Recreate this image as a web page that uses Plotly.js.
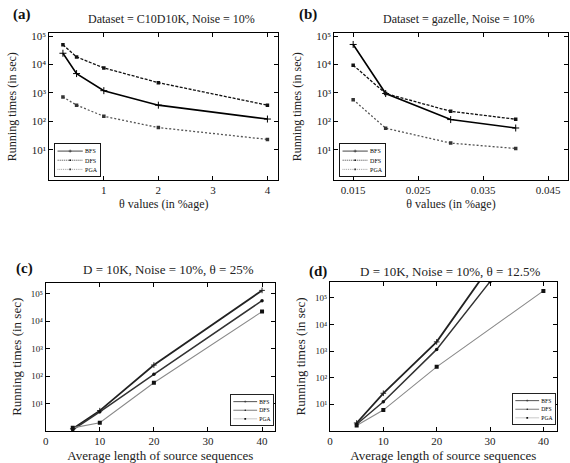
<!DOCTYPE html>
<html>
<head>
<meta charset="utf-8">
<script src="https://cdn.plot.ly/plotly-3.0.1.min.js"></script>
<style>html,body{margin:0;padding:0;background:#fff;}#chart{width:570px;height:463px;}</style>
</head>
<body>
<div id="chart"></div>
<script>
// ---- data ----
const seriesNames = ["BFS", "DFS", "PGA"];

// (a) Dataset = C10D10K, Noise = 10%
const thetaA = [0.25, 0.5, 1, 2, 4];
const bfsA = [25000, 4800, 1200, 370, 120];
const dfsA = [50000, 18500, 7600, 2300, 370];
const pgaA = [720, 370, 150, 60, 23];

// (b) Dataset = gazelle, Noise = 10%
const thetaB = [0.015, 0.02, 0.03, 0.04];
const bfsB = [51000, 950, 115, 58];
const dfsB = [9500, 950, 225, 118];
const pgaB = [580, 57, 17, 11];

// (c) D = 10K, Noise = 10%, theta = 25%
const lenC = [5, 10, 20, 40];
const bfsC = [1.2, 5.5, 250, 130000];
const dfsC = [1.1, 5.0, 115, 55000];
const pgaC = [1.3, 2.0, 57, 22000];

// (d) D = 10K, Noise = 10%, theta = 12.5%
const lenD = [5, 10, 20, 30];
const bfsD = [2.0, 26, 2200, 1500000];
const dfsD = [1.8, 12.5, 1150, 400000];
const lenDpga = [5, 10, 20, 40];
const pgaD = [1.6, 6.1, 255, 180000];

// tick labels
const thetaTicksA = [1, 2, 3, 4];
const thetaTicksB = [0.015, 0.025, 0.035, 0.045];
const thetaTickTextB = ["0.015", "0.025", "0.035", "0.045"];
const lenTicks = [0, 10, 20, 30, 40];
const logTickVals = [10, 100, 1000, 10000, 100000];
const logTickText = ["10\u00b9", "10\u00b2", "10\u00b3", "10\u2074", "10\u2075"];

const panelLabels = ["(a)", "(b)", "(c)", "(d)"];
const panelTitles = [
  "Dataset = C10D10K, Noise = 10%",
  "Dataset = gazelle, Noise = 10%",
  "D = 10K, Noise = 10%, \u03b8 = 25%",
  "D = 10K, Noise = 10%, \u03b8 = 12.5%"
];
const yTitle = "Running times (in sec)";
const xTitleTheta = "\u03b8 values (in %age)";
const xTitleLen = "Average length of source sequences";

// ---- styles ----
const FONT = "Liberation Serif, Times New Roman, serif";
const topStyles = [
  {line: {color: "#000", width: 1.6, dash: "solid"}, marker: {symbol: "cross-thin-open", size: 5, line: {color: "#000", width: 1}, color: "#000"}},
  {line: {color: "#111", width: 1.3, dash: "3px,1.5px"}, marker: {symbol: "square", size: 3.5, color: "#111"}},
  {line: {color: "#555", width: 1.3, dash: "2px,2px"}, marker: {symbol: "square", size: 3.5, color: "#333"}}
];
const botStyles = [
  {line: {color: "#222", width: 1.8}, marker: {symbol: "cross-thin-open", size: 4, line: {color: "#222", width: 1}, color: "#222"}},
  {line: {color: "#333", width: 1.5}, marker: {symbol: "circle", size: 3.5, color: "#111"}},
  {line: {color: "#8a8a8a", width: 1.1}, marker: {symbol: "square", size: 4, color: "#111"}}
];

function mk(x, y, i, styles, xa, ya, lg) {
  return {
    x: x, y: y, type: "scatter", mode: "lines+markers",
    name: seriesNames[i], xaxis: xa, yaxis: ya, legend: lg,
    line: styles[i].line, marker: styles[i].marker
  };
}

const traces = [
  mk(thetaA, bfsA, 0, topStyles, "x", "y", "legend"),
  mk(thetaA, dfsA, 1, topStyles, "x", "y", "legend"),
  mk(thetaA, pgaA, 2, topStyles, "x", "y", "legend"),
  mk(thetaB, bfsB, 0, topStyles, "x2", "y2", "legend2"),
  mk(thetaB, dfsB, 1, topStyles, "x2", "y2", "legend2"),
  mk(thetaB, pgaB, 2, topStyles, "x2", "y2", "legend2"),
  mk(lenC, bfsC, 0, botStyles, "x3", "y3", "legend3"),
  mk(lenC, dfsC, 1, botStyles, "x3", "y3", "legend3"),
  mk(lenC, pgaC, 2, botStyles, "x3", "y3", "legend3"),
  mk(lenD, bfsD, 0, botStyles, "x4", "y4", "legend4"),
  mk(lenD, dfsD, 1, botStyles, "x4", "y4", "legend4"),
  mk(lenDpga, pgaD, 2, botStyles, "x4", "y4", "legend4")
];

function xax(domain, range, tickvals, ticktext, title, anchor, fs, tfs, standoff) {
  const a = {
    domain: domain, range: range, anchor: anchor,
    tickmode: "array", tickvals: tickvals,
    showline: true, linecolor: "#000", linewidth: 1, mirror: "ticks",
    ticks: "inside", ticklen: 4, tickcolor: "#000",
    showgrid: false, zeroline: false,
    tickfont: {family: FONT, size: fs, color: "#222"},
    title: {text: title, font: {family: FONT, size: tfs, color: "#222"}, standoff: standoff}
  };
  if (ticktext) a.ticktext = ticktext;
  return a;
}
function yax(domain, range, title, anchor, fs, tfs, standoff) {
  return {
    domain: domain, range: range, anchor: anchor, type: "log",
    tickmode: "array", tickvals: logTickVals, ticktext: logTickText,
    showline: true, linecolor: "#000", linewidth: 1, mirror: "ticks",
    ticks: "inside", ticklen: 4, tickcolor: "#000",
    showgrid: false, zeroline: false,
    tickfont: {family: FONT, size: fs, color: "#222"},
    title: {text: title, font: {family: FONT, size: tfs, color: "#222"}, standoff: standoff}
  };
}

const legendBase = {
  font: {family: FONT, size: 13, color: "#000"},
  bgcolor: "#fff", bordercolor: "#000", borderwidth: 2,
  itemwidth: 55, tracegroupgap: 0
};

const annotations = [];
const labelPos = [[21.7, 15], [307.5, 15], [24, 268], [318, 271]];
const titlePos = [[171.7, 19], [458.3, 19], [168.3, 269.3], [450, 271.7]];
for (let i = 0; i < 4; i++) {
  annotations.push({
    xref: "paper", yref: "paper", x: labelPos[i][0] / 570, y: 1 - labelPos[i][1] / 463,
    xanchor: "center", yanchor: "middle", showarrow: false,
    text: "<b>" + panelLabels[i] + "</b>", font: {family: FONT, size: 15, color: "#111"}
  });
  annotations.push({
    xref: "paper", yref: "paper", x: titlePos[i][0] / 570, y: 1 - titlePos[i][1] / 463,
    xanchor: "center", yanchor: "middle", showarrow: false,
    text: panelTitles[i], font: {family: FONT, size: i < 2 ? 12 : 13, color: "#222"}
  });
}

const layout = {
  width: 570, height: 463,
  margin: {l: 0, r: 0, t: 0, b: 0},
  paper_bgcolor: "#fff", plot_bgcolor: "#fff",
  font: {family: FONT},
  showlegend: true,
  xaxis: xax([0.0865, 0.4883], [0, 4.2], thetaTicksA, null, xTitleTheta, "y", 11, 12, 4),
  yaxis: yax([0.6112, 0.9280], [-0.07, 5.1], yTitle, "x", 11, 12, 12),
  xaxis2: xax([0.5865, 0.9960], [0.0121, 0.048], thetaTicksB, thetaTickTextB, xTitleTheta, "y2", 11, 12, 4),
  yaxis2: yax([0.6112, 0.9280], [-0.07, 5.1], yTitle, "x2", 11, 12, 12),
  xaxis3: xax([0.0802, 0.4825], [0, 42.4], lenTicks, null, xTitleLen, "y3", 11, 13, 10),
  yaxis3: yax([0.0691, 0.3898], [0, 5.4], yTitle, "x3", 9, 13, 6),
  xaxis4: xax([0.5789, 0.9767], [0, 42.5], lenTicks, null, xTitleLen, "y4", 11, 13, 10),
  yaxis4: yax([0.0691, 0.3916], [0, 5.6], yTitle, "x4", 9, 13, 6),
  legend: Object.assign({}, legendBase, {x: 0.0953, y: 0.6162, xanchor: "left", yanchor: "bottom"}),
  legend2: Object.assign({}, legendBase, {x: 0.5953, y: 0.6162, xanchor: "left", yanchor: "bottom"}),
  legend3: Object.assign({}, legendBase, {x: 0.4807, y: 0.0799, xanchor: "right", yanchor: "bottom"}),
  legend4: Object.assign({}, legendBase, {x: 0.9754, y: 0.0821, xanchor: "right", yanchor: "bottom"}),
  annotations: annotations
};

// compact legend boxes as in the reference (box corner in px and box height)
const legendBoxes = {
  legend:  {x: 54.3,  y: 143.3, anchorRight: false, h: 34},
  legend2: {x: 339.3, y: 143.3, anchorRight: false, h: 34},
  legend3: {x: 274,   y: 394.3, anchorRight: true,  h: 32},
  legend4: {x: 556,   y: 393.3, anchorRight: true,  h: 32}
};

Plotly.newPlot("chart", traces, layout, {staticPlot: true, displayModeBar: false}).then(function (gd) {
  Object.keys(legendBoxes).forEach(function (id) {
    const lo = gd._fullLayout[id];
    const g = gd.querySelector("g." + id);
    if (!lo || !g || !lo._height) return;
    const b = legendBoxes[id];
    const s = b.h / lo._height;
    const x = b.anchorRight ? b.x - lo._width * s : b.x;
    g.setAttribute("transform", "translate(" + x + "," + b.y + ") scale(" + s + ")");
  });
});
</script>
</body>
</html>
